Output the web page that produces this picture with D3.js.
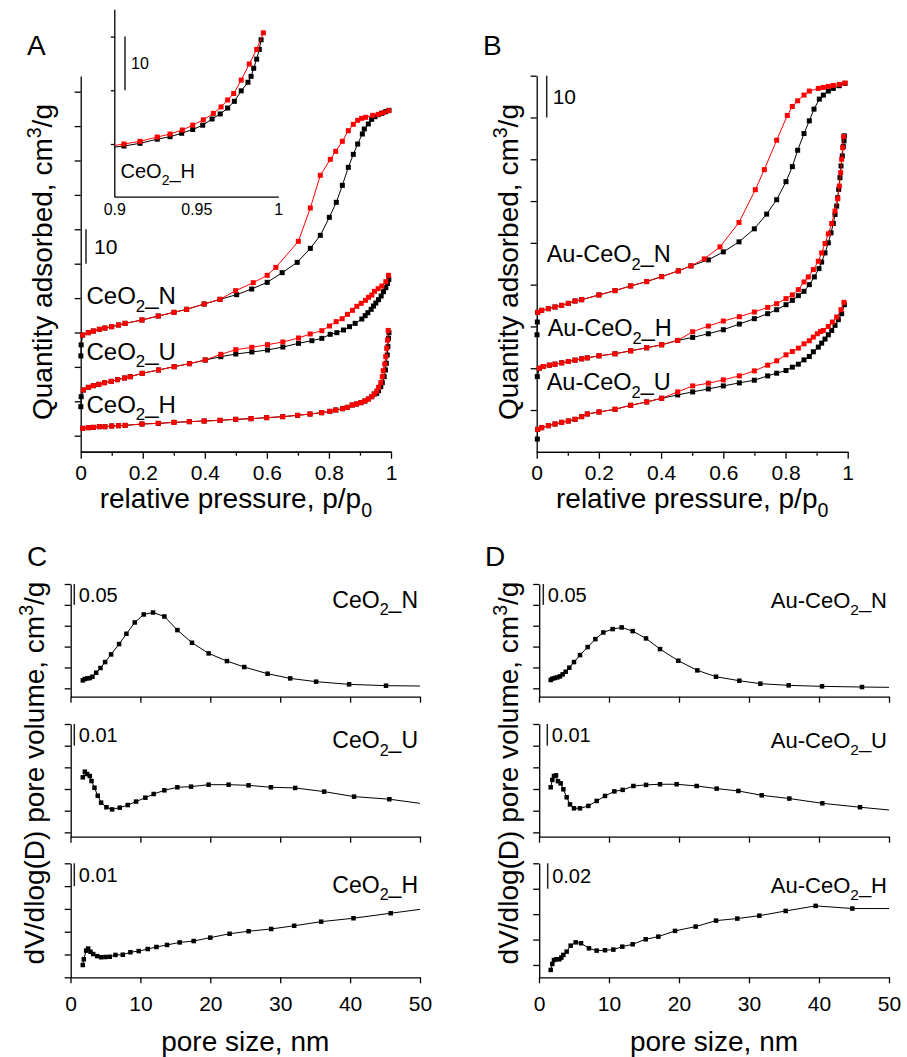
<!DOCTYPE html>
<html>
<head>
<meta charset="utf-8">
<script src="https://cdn.jsdelivr.net/npm/d3@7"></script>
<style>
  body { margin: 0; background: #fff; }
  svg { display: block; }
  text { font-family: "Liberation Sans", Arial, Helvetica, sans-serif; fill: #000; }
</style>
</head>
<body>
<script>
// ---------- N2 isotherms, panel A (quantity adsorbed, cm3/g, curves offset) ----------
const pressureTicks = [0, 0.2, 0.4, 0.6, 0.8, 1];
const pressureMinor = [0.1, 0.3, 0.5, 0.7, 0.9];
const isoTicksA = [10, 20, 30, 40, 50, 60, 70, 80, 90, 100, 110];
const isoTicksB = [10, 20, 30, 40, 50, 60, 70, 80, 90];

const ceN_ads = [[0.0005,33.2],[0.0015,36.4],[0.0063,39.27],[0.0246,39.95],[0.0407,40.43],[0.0601,40.92],[0.078,41.3],[0.0998,41.69],[0.122,42.18],[0.143,42.66],[0.1975,43.63],[0.25,44.79],[0.3007,45.86],[0.3415,46.73],[0.398,48.28],[0.449,49.64],[0.5026,51.0],[0.551,52.64],[0.601,54.58],[0.6493,57.39],[0.6977,60.39],[0.74,64.46],[0.7722,68.24],[0.8013,73.48],[0.8238,77.84],[0.8432,82.78],[0.8625,88.01],[0.8786,91.79],[0.8926,94.79],[0.9076,97.7],[0.914,99.15],[0.9269,100.61],[0.9377,101.96],[0.9484,102.74],[0.9592,103.32],[0.9699,103.71],[0.9828,104.19],[0.9935,104.58]];
const ceN_des = [[0.0063,39.27],[0.0246,39.95],[0.0407,40.43],[0.0601,40.92],[0.078,41.3],[0.0998,41.69],[0.122,42.18],[0.143,42.66],[0.1975,43.63],[0.25,44.79],[0.3007,45.86],[0.3415,46.73],[0.398,48.28],[0.449,49.64],[0.4994,52.16],[0.556,54.48],[0.601,56.62],[0.629,58.94],[0.7014,66.5],[0.74,76.19],[0.7722,85.69],[0.8045,90.34],[0.8217,92.66],[0.8432,95.57],[0.8625,98.67],[0.8786,100.51],[0.8926,101.67],[0.9055,102.26],[0.9184,102.55],[0.9409,103.13],[0.9592,103.42],[0.9753,103.9],[0.9925,104.48]];

const ceU_ads = [[0.0005,18.43],[0.0015,21.34],[0.0085,23.28],[0.0246,24.06],[0.0407,24.54],[0.0585,24.93],[0.0768,25.41],[0.0983,25.8],[0.1187,26.29],[0.1413,26.77],[0.1595,27.16],[0.1982,28.13],[0.2508,29.1],[0.3012,30.06],[0.3507,30.94],[0.4012,32.0],[0.4516,32.97],[0.4999,33.74],[0.5515,34.33],[0.602,34.91],[0.6514,35.78],[0.7019,36.85],[0.745,37.62],[0.7771,38.3],[0.804,39.47],[0.8255,39.95],[0.847,40.72],[0.8663,41.69],[0.8845,42.66],[0.906,43.92],[0.9168,44.89],[0.9254,45.76],[0.9361,46.73],[0.9436,47.7],[0.9511,48.57],[0.9597,49.54],[0.9683,50.6],[0.9758,51.86],[0.9834,53.03],[0.9887,54.29],[0.993,55.45]];
const ceU_des = [[0.0085,23.28],[0.0246,24.06],[0.0407,24.54],[0.0585,24.93],[0.0768,25.41],[0.0983,25.8],[0.1187,26.29],[0.1413,26.77],[0.1595,27.16],[0.1982,28.13],[0.2508,29.1],[0.3012,30.06],[0.3507,30.94],[0.4012,32.0],[0.4516,33.65],[0.4999,35.01],[0.5515,35.69],[0.602,36.46],[0.6514,37.24],[0.7019,38.4],[0.7395,39.56],[0.7771,40.53],[0.8018,41.89],[0.8233,43.15],[0.8426,44.02],[0.8598,45.28],[0.8759,46.44],[0.8899,47.61],[0.9039,48.48],[0.9178,49.35],[0.9275,50.22],[0.9382,50.9],[0.9468,51.97],[0.9587,52.74],[0.9705,53.51],[0.9834,54.77],[0.992,56.62]];

const ceH_ads = [[0.0063,12.14],[0.0246,12.33],[0.0407,12.43],[0.06,12.62],[0.078,12.62],[0.0998,12.82],[0.122,12.91],[0.143,13.0],[0.1975,13.4],[0.25,13.59],[0.3007,13.88],[0.35,14.08],[0.398,14.27],[0.449,14.47],[0.4994,14.76],[0.549,14.95],[0.5993,15.24],[0.651,15.53],[0.699,15.92],[0.739,16.3],[0.7766,16.69],[0.803,17.08],[0.822,17.47],[0.844,17.86],[0.859,18.24],[0.875,18.92],[0.889,19.21],[0.903,19.6],[0.916,20.08],[0.927,20.67],[0.938,21.34],[0.946,22.12],[0.954,22.31],[0.96,23.09],[0.967,24.25],[0.972,25.41],[0.978,27.16],[0.982,29.1],[0.985,31.04],[0.988,33.46],[0.99,35.88],[0.992,38.3],[0.9935,39.95]];
const ceH_des = [[0.0063,12.14],[0.0246,12.33],[0.0407,12.43],[0.06,12.62],[0.078,12.62],[0.0998,12.82],[0.122,12.91],[0.143,13.0],[0.1975,13.4],[0.25,13.59],[0.3007,13.88],[0.35,14.08],[0.398,14.27],[0.449,14.47],[0.4994,14.76],[0.549,14.95],[0.5993,15.24],[0.651,15.53],[0.699,15.92],[0.739,16.3],[0.7766,16.69],[0.803,17.08],[0.822,17.47],[0.844,17.86],[0.859,18.24],[0.875,18.92],[0.889,19.21],[0.903,19.6],[0.916,20.08],[0.927,20.67],[0.938,21.34],[0.946,22.12],[0.954,22.98],[0.96,24.06],[0.967,25.41],[0.972,27.16],[0.975,28.9],[0.98,30.84],[0.983,32.97],[0.986,35.4],[0.989,37.8],[0.991,40.6]];

// inset: high-pressure end of CeO2_H
const insetTicksX = [0.9, 0.95, 1];
const insetTicksY = [10, 20, 30];
const insetH_ads = [[0.895,9.25],[0.9059,9.63],[0.9157,10.13],[0.9262,10.9],[0.934,11.36],[0.9411,12.0],[0.9478,12.7],[0.9539,13.5],[0.9596,14.66],[0.9646,15.6],[0.9691,16.7],[0.9732,17.95],[0.9774,19.9],[0.9815,21.5],[0.9834,22.6],[0.985,24.1],[0.9868,25.8],[0.9884,27.6],[0.9895,29.4]];
const insetH_des = [[0.895,9.5],[0.9059,10.0],[0.9157,10.5],[0.9262,11.3],[0.934,11.86],[0.9415,12.6],[0.9478,13.5],[0.9543,14.5],[0.9604,15.7],[0.9651,16.9],[0.9691,18.2],[0.9728,19.4],[0.9774,21.9],[0.9823,24.9],[0.9868,27.6],[0.9909,30.7]];

// ---------- N2 isotherms, panel B ----------
const auN_ads = [[0.001,28.0],[0.002,31.05],[0.0031,33.37],[0.016,33.85],[0.0374,34.25],[0.0588,34.65],[0.0803,35.04],[0.1017,35.52],[0.1232,36.09],[0.1446,36.4],[0.2003,37.53],[0.2518,38.57],[0.3022,39.69],[0.3536,40.73],[0.4018,41.92],[0.4554,43.29],[0.4961,44.49],[0.5519,45.92],[0.6001,47.84],[0.6505,50.24],[0.6998,53.36],[0.7394,56.88],[0.7716,60.32],[0.8016,64.64],[0.822,68.24],[0.8391,72.16],[0.8595,76.16],[0.8766,79.2],[0.8916,82.0],[0.9088,84.4],[0.9217,85.36],[0.9377,86.32],[0.9538,86.96],[0.9731,87.6],[0.9913,88.16]];
const auN_des = [[0.0031,33.37],[0.016,33.85],[0.0374,34.25],[0.0588,34.65],[0.0803,35.04],[0.1017,35.52],[0.1232,36.09],[0.1446,36.4],[0.2003,37.53],[0.2518,38.57],[0.3022,39.69],[0.3536,40.73],[0.4018,41.92],[0.4554,43.29],[0.4961,44.49],[0.539,46.16],[0.5894,49.04],[0.6505,54.88],[0.703,62.72],[0.7319,67.52],[0.7716,74.56],[0.8059,80.48],[0.822,82.64],[0.8391,84.0],[0.8595,85.36],[0.8766,86.32],[0.9056,86.96],[0.9217,87.2],[0.9377,87.44],[0.9538,87.68],[0.9731,87.92],[0.9913,88.24]];

const auH_ads = [[0.002,18.0],[0.0085,20.0],[0.0213,20.41],[0.0406,20.73],[0.0588,20.97],[0.0803,21.29],[0.1017,21.61],[0.1232,21.93],[0.1446,22.25],[0.1628,22.49],[0.2003,22.97],[0.2518,23.45],[0.3022,24.17],[0.3536,24.89],[0.4018,25.61],[0.4533,26.65],[0.5015,27.37],[0.5519,28.25],[0.6001,29.21],[0.6516,30.57],[0.6998,31.85],[0.7427,33.05],[0.7716,34.0],[0.8016,35.2],[0.822,36.24],[0.8413,37.37],[0.8595,38.4],[0.8766,40.0],[0.8927,41.85],[0.9077,43.84],[0.9163,45.4],[0.927,47.6],[0.9377,50.0],[0.9463,52.4],[0.9538,54.64],[0.9592,56.8],[0.9645,58.8],[0.9678,60.8],[0.971,62.8],[0.9752,65.6],[0.9785,68.4],[0.9827,70.8],[0.9859,73.04],[0.9881,74.4],[0.9892,75.6]];
const auH_des = [[0.0085,20.0],[0.0213,20.41],[0.0406,20.73],[0.0588,20.97],[0.0803,21.29],[0.1017,21.61],[0.1232,21.93],[0.1446,22.25],[0.1628,22.49],[0.2003,22.97],[0.2518,23.45],[0.3022,24.17],[0.3536,24.89],[0.4018,25.61],[0.4533,26.65],[0.5015,28.73],[0.5519,30.09],[0.6001,31.29],[0.6516,32.33],[0.6998,33.45],[0.7427,34.56],[0.7716,35.45],[0.8016,36.65],[0.822,37.53],[0.8413,38.8],[0.8595,40.65],[0.8734,41.85],[0.8895,43.6],[0.9056,45.6],[0.9163,47.6],[0.927,49.84],[0.9377,52.16],[0.9485,54.64],[0.9592,57.6],[0.9678,60.56],[0.9731,63.6],[0.9774,66.8],[0.9806,70.0],[0.9838,72.8],[0.987,75.44]];

const auU_ads = [[0.002,3.05],[0.0031,5.37],[0.016,5.77],[0.0374,6.25],[0.0588,6.65],[0.0803,7.05],[0.1017,7.37],[0.1232,7.77],[0.1446,8.41],[0.1628,9.05],[0.2003,9.53],[0.2518,10.17],[0.3022,11.13],[0.3536,11.93],[0.4018,12.81],[0.4533,13.61],[0.5015,14.33],[0.5519,15.05],[0.6001,15.77],[0.6516,16.49],[0.6998,17.13],[0.7427,18.17],[0.7716,18.81],[0.8016,19.45],[0.822,20.25],[0.8413,20.97],[0.8595,22.0],[0.8766,22.81],[0.8895,23.93],[0.9056,25.05],[0.9163,26.0],[0.927,26.97],[0.9377,28.0],[0.9485,29.04],[0.9592,30.25],[0.9699,31.6],[0.9806,33.05],[0.9892,35.2]];
const auU_des = [[0.0031,5.37],[0.016,5.77],[0.0374,6.25],[0.0588,6.65],[0.0803,7.05],[0.1017,7.37],[0.1232,7.77],[0.1446,8.41],[0.1628,9.05],[0.2003,9.53],[0.2518,10.17],[0.3022,11.13],[0.3536,11.93],[0.4018,12.81],[0.4533,14.33],[0.5015,15.77],[0.5519,16.41],[0.6001,17.21],[0.6516,18.17],[0.6998,19.37],[0.7427,20.73],[0.7716,21.77],[0.8016,23.21],[0.822,24.0],[0.8413,24.81],[0.8595,25.85],[0.8766,26.57],[0.8895,27.45],[0.9024,28.25],[0.9131,28.8],[0.9217,29.04],[0.9377,30.0],[0.9506,31.05],[0.9645,32.25],[0.9785,34.0],[0.9881,35.77]];

// ---------- pore size distributions (nm, dV/dlog(D) cm3/g) ----------
const poreTicks = [0, 10, 20, 30, 40, 50];
const psdTicksTop = [0, 0.05, 0.1, 0.15, 0.2, 0.25];
const psdTicksMid = [0, 0.01, 0.02, 0.03, 0.04, 0.05];
const psdTicksBotC = [0, 0.01, 0.02, 0.03, 0.04, 0.05];
const psdTicksBotD = [0, 0.02, 0.04, 0.06, 0.08];

const psdCeN = [[1.76,0.0191],[2.05,0.0222],[2.38,0.0238],[2.76,0.0246],[3.14,0.0278],[3.67,0.0374],[4.29,0.0486],[4.95,0.0629],[5.81,0.0813],[6.95,0.106],[8.0,0.1307],[9.19,0.1578],[10.48,0.177],[11.81,0.1817],[13.43,0.1722],[15.29,0.1395],[17.38,0.1092],[19.76,0.0837],[22.38,0.0653],[24.86,0.051],[28.19,0.035],[31.43,0.0238],[35.14,0.0159],[39.86,0.0095],[45.14,0.0063],[53,0.005]];
const psdCeU = [[1.76,0.0254],[2.05,0.028],[2.38,0.0269],[2.76,0.026],[3.0,0.0237],[3.43,0.0206],[3.9,0.0169],[4.38,0.0137],[5.14,0.0116],[5.95,0.0106],[7.05,0.0114],[8.19,0.0126],[9.38,0.0142],[10.71,0.016],[11.9,0.0177],[13.43,0.0194],[15.29,0.0208],[17.24,0.0211],[19.76,0.022],[22.62,0.022],[25.48,0.0217],[28.67,0.0208],[32.14,0.0205],[36.29,0.0188],[40.57,0.0165],[45.62,0.0153],[53,0.0121]];
const psdCeH = [[1.76,0.0054],[1.9,0.0079],[2.24,0.0117],[2.52,0.0126],[2.86,0.0112],[3.24,0.0102],[3.81,0.0093],[4.38,0.0088],[5.0,0.0089],[5.62,0.009],[6.43,0.0098],[7.48,0.0099],[8.57,0.011],[9.76,0.0115],[11.05,0.0124],[12.29,0.0133],[13.81,0.0142],[15.62,0.0153],[17.62,0.0159],[20.0,0.0174],[22.76,0.0191],[25.48,0.0202],[28.71,0.0212],[32.0,0.0226],[35.86,0.0244],[40.48,0.0259],[45.81,0.0281],[53,0.031]];
const psdAuN = [[1.67,0.0199],[1.9,0.023],[2.24,0.0246],[2.62,0.0262],[3.0,0.0286],[3.38,0.0334],[3.81,0.0398],[4.33,0.0494],[5.0,0.0629],[5.86,0.0797],[6.95,0.0988],[8.05,0.1179],[9.19,0.1339],[10.52,0.1419],[11.81,0.1459],[13.38,0.1371],[15.29,0.1196],[17.29,0.094],[19.9,0.0661],[22.62,0.043],[25.29,0.0278],[28.62,0.0182],[31.62,0.0111],[35.67,0.0071],[40.43,0.0047],[46.14,0.0031],[53,0.0018]];
const psdAuU = [[1.67,0.0208],[1.9,0.0242],[2.14,0.026],[2.43,0.0263],[2.71,0.0236],[3.1,0.0226],[3.48,0.0199],[3.95,0.0162],[4.43,0.0129],[5.0,0.0111],[5.86,0.0111],[7.05,0.0122],[8.24,0.0145],[9.43,0.0168],[10.76,0.0189],[11.95,0.0196],[13.48,0.0214],[15.29,0.0219],[17.29,0.0222],[19.67,0.0222],[22.52,0.0214],[25.38,0.0202],[28.48,0.0191],[31.81,0.0171],[35.76,0.0156],[40.48,0.0134],[45.86,0.0116],[53,0.0094]];
const psdAuH = [[1.67,-0.0039],[1.9,0.0008],[2.14,0.0039],[2.52,0.0045],[2.9,0.0045],[3.19,0.0058],[3.48,0.0079],[3.95,0.0105],[4.52,0.0152],[5.24,0.0178],[6.0,0.0171],[7.14,0.0131],[8.24,0.0113],[9.43,0.0116],[10.62,0.0121],[11.9,0.0144],[13.38,0.0163],[15.24,0.0202],[17.05,0.0223],[19.43,0.0268],[22.38,0.0302],[25.29,0.0349],[28.33,0.0365],[31.48,0.0388],[35.24,0.0425],[39.52,0.0465],[44.76,0.0444],[53,0.0444]];

// ---------- drawing ----------
const svg = d3.select("body").append("svg").attr("width", 907).attr("height", 1057);
const RED = "#ff0000", BLACK = "#000000";
let clipId = 0;

// text with optional sub/superscript parts: ["CeO", ["2","sub"], "_N"]
function richText(g, x, y, parts, size, opts = {}) {
  const t = g.append("text").attr("x", x).attr("y", y).attr("font-size", size)
    .attr("text-anchor", opts.anchor || "start");
  if (opts.rotate) t.attr("transform", `rotate(-90 ${x} ${y})`);
  let shift = 0;
  parts.forEach(p => {
    const [str, mode] = Array.isArray(p) ? p : [p, null];
    const ts = t.append("tspan").text(str);
    const target = mode === "sub" ? size * 0.32 : mode === "sup" ? -size * 0.4 : 0;
    if (target !== shift) { ts.attr("dy", target - shift); shift = target; }
    if (mode) ts.attr("font-size", size * 0.7);
  });
  return t;
}

function styleAxis(sel, fontSize) {
  sel.attr("font-family", null).attr("font-size", null);
  sel.selectAll("path.domain").attr("stroke", "#000").attr("stroke-width", 1.3);
  sel.selectAll(".tick line").attr("stroke", "#000").attr("stroke-width", 1.3);
  sel.selectAll(".tick text").attr("font-size", fontSize).attr("fill", "#000");
}

function clipRect(x0, y0, x1, y1) {
  const id = "clip" + (clipId++);
  svg.append("clipPath").attr("id", id).append("rect")
    .attr("x", x0).attr("y", y0).attr("width", x1 - x0).attr("height", y1 - y0);
  return `url(#${id})`;
}

function drawSeries(g, x, y, data, color, size) {
  const line = d3.line().x(d => x(d[0])).y(d => y(d[1]));
  g.append("path").attr("d", line(data)).attr("fill", "none")
    .attr("stroke", color).attr("stroke-width", 1);
  g.selectAll(null).data(data).join("rect")
    .attr("x", d => x(d[0]) - size / 2).attr("y", d => y(d[1]) - size / 2)
    .attr("width", size).attr("height", size).attr("fill", color);
}

function scaleBar(g, x, y, v0, v1, label, size, dx) {
  const ya = y(v0), yb = y(v1);
  g.append("line").attr("x1", x).attr("x2", x).attr("y1", ya).attr("y2", yb)
    .attr("stroke", "#222").attr("stroke-width", 1.5);
  g.append("text").attr("x", x + dx).attr("y", (ya + yb) / 2 + size * 0.36)
    .attr("font-size", size).text(label);
}

const fmtP = d => String(+d.toFixed(2));

// isotherm panel (A or B)
function isoPanel(x, y, yTicks, seriesList, opts) {
  const g = svg.append("g");
  const [x0, x1] = x.range();
  const [yb, yt] = y.range();
  const ax = g.append("g").attr("transform", `translate(0,${yb})`)
    .call(d3.axisBottom(x).tickValues(pressureTicks).tickSize(7).tickSizeOuter(0).tickPadding(6).tickFormat(fmtP));
  styleAxis(ax, 21);
  const axm = g.append("g").attr("transform", `translate(0,${yb})`)
    .call(d3.axisBottom(x).tickValues(pressureMinor).tickSize(4).tickSizeOuter(0).tickFormat(""));
  styleAxis(axm, 21);
  const ay = g.append("g").attr("transform", `translate(${x0},0)`)
    .call(d3.axisLeft(y).tickValues(yTicks).tickSize(6).tickSizeOuter(0).tickFormat(""));
  styleAxis(ay, 21);
  const pg = g.append("g").attr("clip-path", clipRect(x0 - 4, yt - 4, x1 + 6, yb + 1));
  seriesList.forEach(([ads, des]) => {
    drawSeries(pg, x, y, ads, BLACK, 5);
    drawSeries(pg, x, y, des, RED, 5);
  });
  richText(g, (x0 + x1) / 2, 508, ["relative pressure, p/p", ["0", "sub"]], 28, { anchor: "middle" });
  richText(g, opts.titleX, 262, ["Quantity adsorbed, cm", ["3", "sup"], "/g"], 28, { anchor: "middle", rotate: true });
  return g;
}

// ---- Panel A
const xA = d3.scaleLinear().domain([0, 1]).range([80.7, 391]);
const yA = d3.scaleLinear().domain([5.35, 114.56]).range([451.7, 76]);
const gA = isoPanel(xA, yA, isoTicksA, [[ceN_ads, ceN_des], [ceU_ads, ceU_des], [ceH_ads, ceH_des]], { titleX: 52 });
scaleBar(gA, 86, yA, 60, 70, "10", 21, 8);
richText(gA, 86.5, 304, ["CeO", ["2", "sub"], "_N"], 24);
richText(gA, 86.5, 359.5, ["CeO", ["2", "sub"], "_U"], 24);
richText(gA, 86.5, 412.5, ["CeO", ["2", "sub"], "_H"], 24);

// inset of panel A
const xI = d3.scaleLinear().domain([0.9, 1]).range([114.3, 278.3]);
const yI = d3.scaleLinear().domain([0.19, 35.08]).range([196.7, 9.3]);
{
  const g = svg.append("g");
  const ax = g.append("g").attr("transform", "translate(0,196.7)")
    .call(d3.axisBottom(xI).tickValues(insetTicksX).tickSize(0).tickSizeOuter(0).tickPadding(7).tickFormat(fmtP));
  styleAxis(ax, 16);
  const ay = g.append("g").attr("transform", "translate(114.3,0)")
    .call(d3.axisLeft(yI).tickValues(insetTicksY).tickSize(3.5).tickSizeOuter(0).tickFormat(""));
  styleAxis(ay, 16);
  const pg = g.append("g").attr("clip-path", clipRect(114.3, 5, 282, 196.7));
  drawSeries(pg, xI, yI, insetH_ads, BLACK, 5);
  drawSeries(pg, xI, yI, insetH_des, RED, 5);
  scaleBar(g, 125, yI, 20, 30, "10", 16, 6);
  richText(g, 120.5, 178.3, ["CeO", ["2", "sub"], "_H"], 20);
}

// ---- Panel B
const xB = d3.scaleLinear().domain([0, 1]).range([536.7, 847.7]);
const yB = d3.scaleLinear().domain([0, 90]).range([451.8, 75.7]);
const gB = isoPanel(xB, yB, isoTicksB, [[auN_ads, auN_des], [auH_ads, auH_des], [auU_ads, auU_des]], { titleX: 518 });
scaleBar(gB, 546.7, yB, 80, 90, "10", 21, 6);
richText(gB, 546.7, 262.3, ["Au-CeO", ["2", "sub"], "_N"], 23.5);
richText(gB, 547.7, 336, ["Au-CeO", ["2", "sub"], "_H"], 23.5);
richText(gB, 546.7, 390, ["Au-CeO", ["2", "sub"], "_U"], 23.5);

// ---- Panels C and D: pore size distributions
const psdRows = [
  { top: 584, bottom: 696.7 },
  { top: 724, bottom: 836.7 },
  { top: 863.3, bottom: 977.3 }
];
const psdPanels = [
  { x0: 70.5, x1: 420, titleX: 44, prefix: "CeO", labelSize: 23, rows: [
    { data: psdCeN, domain: [-0.0201, 0.25], ticks: psdTicksTop, bar: [0.2, 0.25, "0.05"], barX: 74.3, name: "_N" },
    { data: psdCeU, domain: [-0.002, 0.05], ticks: psdTicksMid, bar: [0.04, 0.05, "0.01"], barX: 74.3, name: "_U" },
    { data: psdCeH, domain: [0, 0.05], ticks: psdTicksBotC, bar: [0.04, 0.05, "0.01"], barX: 74.3, name: "_H" } ] },
  { x0: 539, x1: 889, titleX: 518, prefix: "Au-CeO", labelSize: 22, rows: [
    { data: psdAuN, domain: [-0.0201, 0.25], ticks: psdTicksTop, bar: [0.2, 0.25, "0.05"], barX: 543.3, name: "_N" },
    { data: psdAuU, domain: [-0.002, 0.05], ticks: psdTicksMid, bar: [0.04, 0.05, "0.01"], barX: 547.3, name: "_U" },
    { data: psdAuH, domain: [-0.0097, 0.08], ticks: psdTicksBotD, bar: [0.06, 0.08, "0.02"], barX: 547.7, name: "_H" } ] }
];
const labelBaselines = [608, 748.3, 892.7];

psdPanels.forEach(panel => {
  const g = svg.append("g");
  const x = d3.scaleLinear().domain([0, 50]).range([panel.x0, panel.x1]);
  panel.rows.forEach((row, i) => {
    const box = psdRows[i];
    const y = d3.scaleLinear().domain(row.domain).range([box.bottom, box.top]);
    const last = i === panel.rows.length - 1;
    const ax = g.append("g").attr("transform", `translate(0,${box.bottom})`)
      .call(d3.axisBottom(x).tickValues(poreTicks).tickSize(6).tickSizeOuter(0).tickPadding(13)
        .tickFormat(last ? d3.format("d") : ""));
    styleAxis(ax, 21);
    const ay = g.append("g").attr("transform", `translate(${panel.x0 + 0.2},0)`)
      .call(d3.axisLeft(y).tickValues(row.ticks).tickSize(6).tickSizeOuter(0).tickFormat(""));
    styleAxis(ay, 21);
    const pg = g.append("g").attr("clip-path", clipRect(panel.x0, box.top - 4, panel.x1, box.bottom));
    drawSeries(pg, x, y, row.data, BLACK, 4.5);
    scaleBar(g, row.barX, y, row.bar[0], row.bar[1], row.bar[2], 20, 4.5);
    richText(g, panel.x1 - 2, labelBaselines[i], [panel.prefix, ["2", "sub"], row.name], panel.labelSize, { anchor: "end" });
  });
  richText(g, (panel.x0 + panel.x1) / 2, 1051, ["pore size, nm"], 28, { anchor: "middle" });
  richText(g, panel.titleX, 773, ["dV/dlog(D) pore volume, cm", ["3", "sup"], "/g"], 28, { anchor: "middle", rotate: true });
});

// panel letters
[["A", 27, 55], ["B", 483, 55], ["C", 27, 566], ["D", 485, 566]].forEach(([s, x, y]) => {
  svg.append("text").attr("x", x).attr("y", y).attr("font-size", 28).text(s);
});
</script>
</body>
</html>
